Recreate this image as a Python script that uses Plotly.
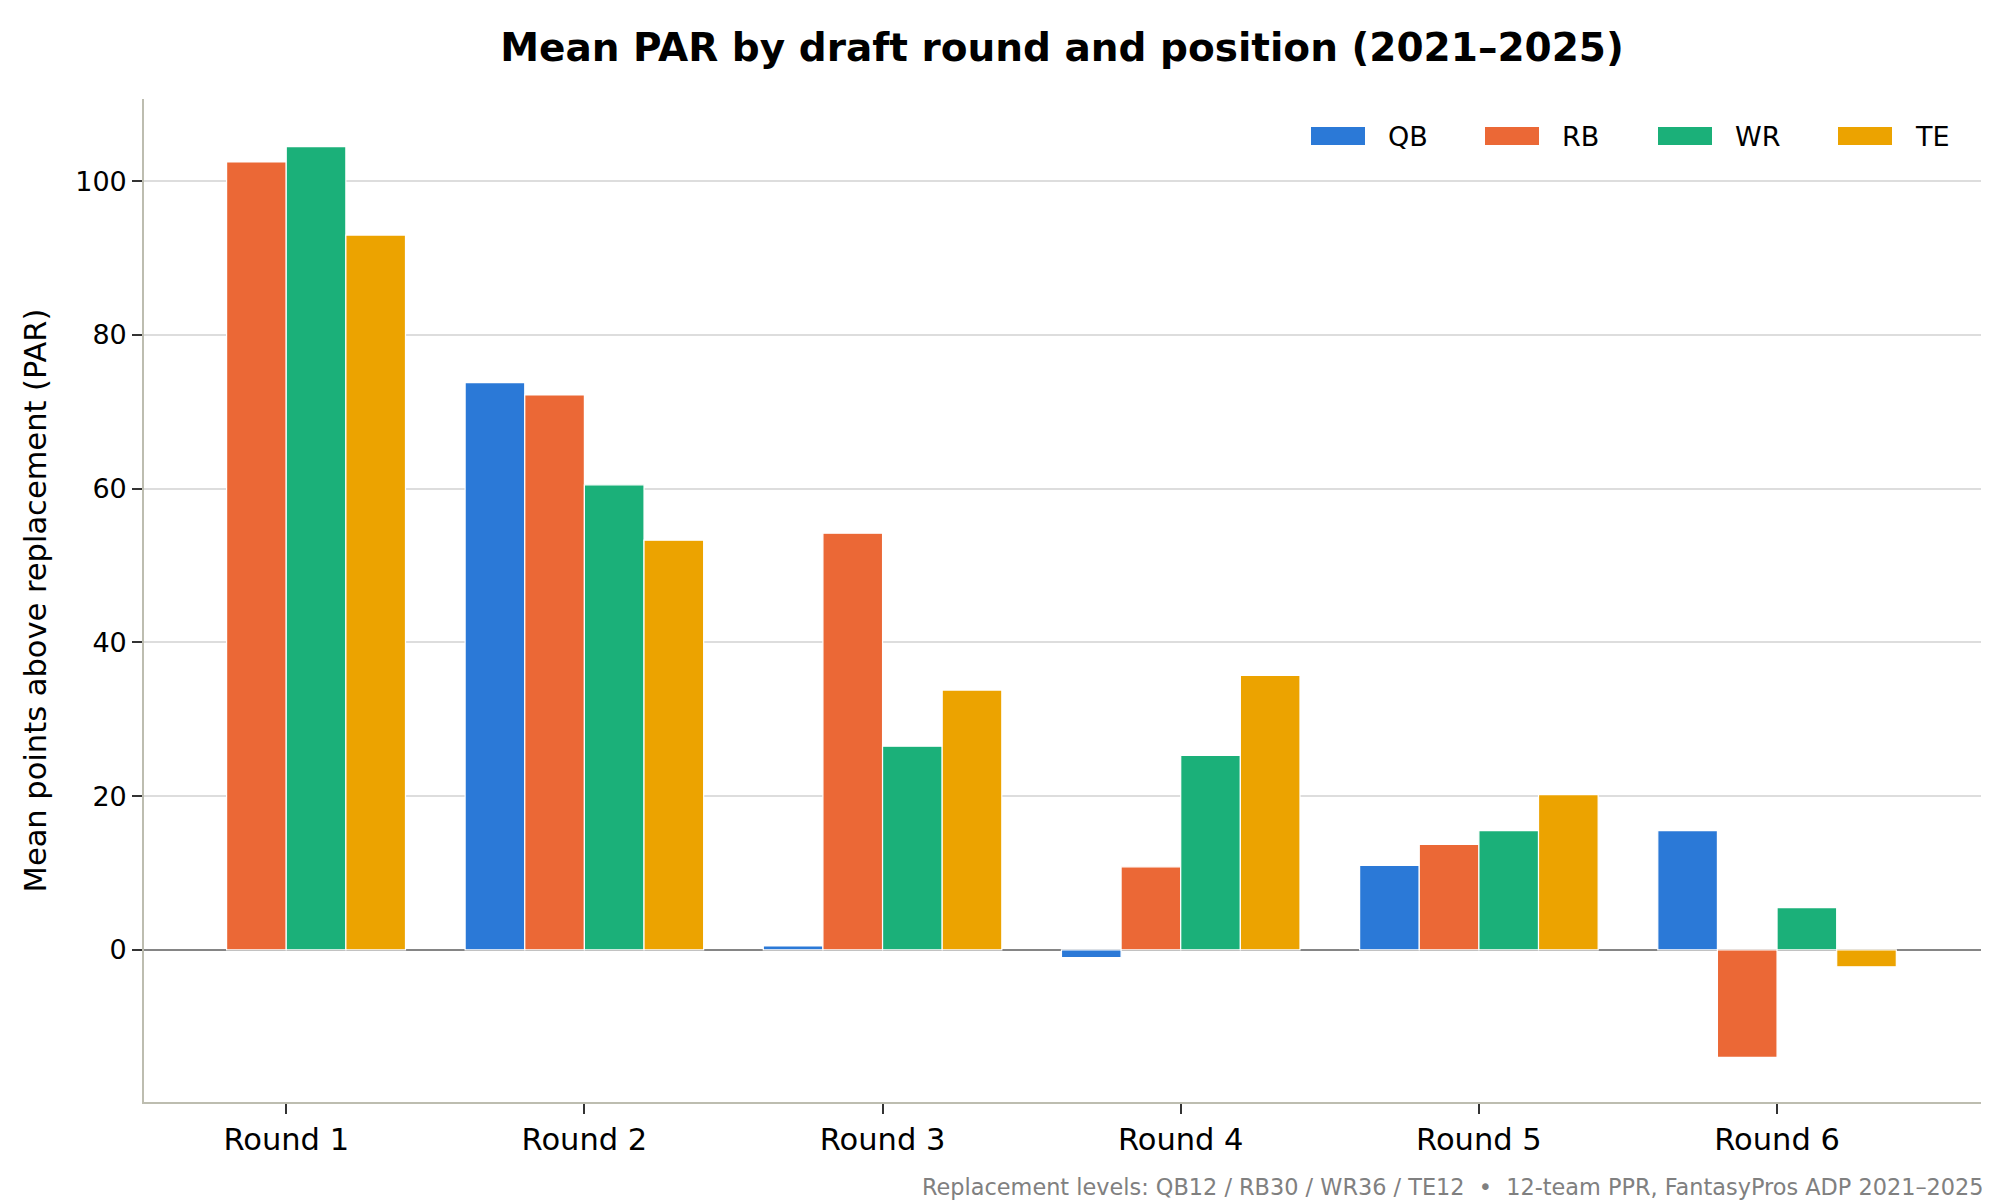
import plotly.graph_objects as go

# data
rounds = ["Round 1", "Round 2", "Round 3", "Round 4", "Round 5", "Round 6"]
qb = [None, 73.8, 0.5, -1.0, 11.0, 15.5]
rb = [102.5, 72.2, 54.2, 10.8, 13.7, -14.0]
wr = [104.5, 60.5, 26.5, 25.3, 15.5, 5.5]
te = [93.0, 53.3, 33.8, 35.7, 20.2, -2.2]

series = [("QB", qb, "#2b79d7"), ("RB", rb, "#eb6836"),
          ("WR", wr, "#1bb079"), ("TE", te, "#eca300")]

font = "DejaVu Sans"
fig = go.Figure()
for name, vals, col in series:
    fig.add_trace(go.Bar(
        x=rounds, y=vals, name=name, showlegend=False,
        marker=dict(color=col, line=dict(color="white", width=1.2)),
    ))

# legend drawn by hand so the swatches are wide rectangles like the original
swatch_left = [-670, -496, -323, -143]
for (name, vals, col), sx in zip(series, swatch_left):
    fig.add_shape(type="rect", xref="paper", yref="paper",
                  xsizemode="pixel", ysizemode="pixel", xanchor=1, yanchor=1,
                  x0=sx, x1=sx + 54, y0=-46, y1=-28,
                  fillcolor=col, line=dict(width=0))
    fig.add_annotation(text=name, xref="paper", yref="paper", x=1, y=1,
                       xanchor="left", yanchor="middle", xshift=sx + 75, yshift=-37,
                       showarrow=False, font=dict(size=27, family=font, color="black"))

fig.update_layout(
    width=1992, height=1192,
    barmode="group", bargap=0.2, bargroupgap=0,
    plot_bgcolor="white", paper_bgcolor="white",
    font=dict(family=font, color="black"),
    margin=dict(l=136, r=19, t=91, b=98),
    title=dict(text="<b>Mean PAR by draft round and position (2021–2025)</b>",
               x=0.5291, xanchor="center", y=0.9673, yanchor="middle",
               font=dict(size=39, family=font)),
    showlegend=False,
)
fig.update_xaxes(
    range=[-0.477, 5.684], showgrid=False, zeroline=False,
    showline=True, linecolor="#bdbdb0", linewidth=1.6,
    ticks="outside", ticklen=10, tickwidth=1.6, tickcolor="#333333",
    tickfont=dict(size=30.5, family=font),
)
fig.update_yaxes(
    range=[-19.8, 110.7], tickvals=[0, 20, 40, 60, 80, 100],
    showgrid=True, gridcolor="#dddddd", gridwidth=1.6,
    zeroline=True, zerolinecolor="#858585", zerolinewidth=1.8,
    showline=True, linecolor="#bdbdb0", linewidth=1.6,
    ticks="outside", ticklen=10, tickwidth=1.6, tickcolor="#333333",
    tickfont=dict(size=27, family=font),
    title=dict(text="Mean points above replacement (PAR)", standoff=20,
               font=dict(size=30.5, family=font)),
)
fig.add_annotation(
    text="Replacement levels: QB12 / RB30 / WR36 / TE12  •  12-team PPR, FantasyPros ADP 2021–2025",
    xref="paper", yref="paper", x=1.0027, y=-0.0847, xanchor="right", yanchor="middle",
    showarrow=False, font=dict(size=22.4, color="#808080", family=font),
)
fig.write_html("out.html")
